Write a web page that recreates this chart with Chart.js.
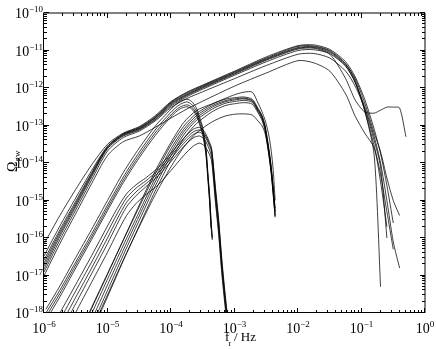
<!DOCTYPE html>
<html>
<head>
<meta charset="utf-8">
<script src="https://cdn.jsdelivr.net/npm/chart.js@4/dist/chart.umd.min.js"></script>
<style>
  html, body { margin: 0; padding: 0; background: #fff; }
  canvas { display: block; }
</style>
</head>
<body>
<canvas id="gwChart" width="436" height="349"></canvas>
<script>
// All values are log10: grids are log10(f / Hz), curves are log10(Omega_gw)

// ── Family 1: broad spectra peaking near 1e-2 Hz ─────────────────────────────
const f1Grid = [-6, -5.75, -5.5, -5.25, -5.0, -4.75, -4.5, -4.25, -4.0, -3.75, -3.5, -3.0, -2.5,
                -2.0, -1.75, -1.5, -1.25, -1.1, -0.95, -0.8, -0.7, -0.6, -0.5, -0.4, -0.3];
const f1a = [-16.16, -15.40, -14.70, -14.05, -13.50, -13.20, -13.03, -12.74, -12.36, -12.11, -11.92, -11.55, -11.17,
             -10.87, -10.85, -10.97, -11.30, -11.70, -12.30, -13.10, -13.75, -14.60, -15.60];
const f1b = [-16.48, -15.68, -14.93, -14.20, -13.55, -13.22, -13.05, -12.77, -12.38, -12.13, -11.94, -11.57, -11.20,
             -10.89, -10.88, -11.00, -11.35, -11.80, -12.60, -13.55, -14.30, -15.30, -16.30];
const f1c = [-16.59, -15.78, -15.02, -14.26, -13.57, -13.23, -13.07, -12.79, -12.40, -12.16, -11.96, -11.59, -11.22,
             -10.92, -10.90, -11.02, -11.37, -11.75, -12.40, -13.20, -13.70, -14.40, -15.00, -15.40];
const f1d = [-16.67, -15.84, -15.07, -14.29, -13.57, -13.24, -13.08, -12.80, -12.42, -12.18, -11.98, -11.61, -11.24,
             -10.94, -10.92, -11.05, -11.40, -11.85, -12.60, -13.80, -17.30];
const f1e = [-16.75, -15.90, -15.12, -14.33, -13.60, -13.26, -13.10, -12.83, -12.45, -12.20, -12.00, -11.63, -11.26,
             -10.96, -10.94, -11.08, -11.42, -11.85, -12.50, -13.30, -14.00, -15.00, -16.10, -16.80];
const f1f = [-16.83, -15.96, -15.17, -14.37, -13.62, -13.28, -13.12, -12.85, -12.48, -12.23, -12.03, -11.66, -11.30,
             -11.00, -10.98, -11.10, -11.75, -12.32, -12.64, -12.67, -12.59, -12.51, -12.51, -12.53, -13.30];
const f1g = [-16.91, -16.05, -15.25, -14.45, -13.68, -13.32, -13.15, -12.88, -12.52, -12.28, -12.10, -11.75, -11.40,
             -11.10, -11.08, -11.20, -11.55, -11.95, -12.55, -13.40, -14.10, -16.00];
const f1h = [-17.01, -16.15, -15.35, -14.55, -13.80, -13.43, -13.28, -13.05, -12.80, -12.56, -12.35, -11.95, -11.60,
             -11.27, -11.33, -11.55, -12.16, -12.75, -13.20, -13.60, -14.50, -15.70];

// ── Family 2: peak ~5e-13 near 2e-3 Hz, cut at ~4e-3 Hz ─────────────────────
const f2Grid = [-5.4, -5.25, -5.0, -4.75, -4.5, -4.25, -4.0, -3.8, -3.6, -3.35, -3.15, -3.0, -2.85,
                -2.72, -2.63, -2.57, -2.52, -2.48, -2.45, -2.42, -2.39, -2.36];
const f2a = [-18.40, -17.85, -16.95, -16.05, -15.17, -14.30, -13.52, -13.02, -12.68, -12.43, -12.30, -12.26, -12.24,
             -12.30, -12.54, -12.72, -12.99, -13.38, -13.72, -14.12, -14.65, -15.20];
const f2b = [-18.58, -18.02, -17.10, -16.19, -15.30, -14.41, -13.62, -13.10, -12.74, -12.47, -12.34, -12.29, -12.27,
             -12.33, -12.57, -12.75, -13.02, -13.41, -13.76, -14.16, -14.69, -15.27];
const f2c = [-18.75, -18.19, -17.25, -16.32, -15.41, -14.51, -13.71, -13.17, -12.80, -12.51, -12.37, -12.32, -12.29,
             -12.35, -12.59, -12.77, -13.04, -13.44, -13.79, -14.19, -14.72, -15.31];
const f2d = [-18.90, -18.35, -17.40, -16.45, -15.53, -14.62, -13.80, -13.25, -12.86, -12.56, -12.41, -12.36, -12.33,
             -12.38, -12.62, -12.80, -13.08, -13.48, -13.83, -14.24, -14.78, -15.40];
const f2e = [-19.10, -18.52, -17.57, -16.60, -15.67, -14.75, -13.92, -13.35, -12.95, -12.63, -12.47, -12.42, -12.39,
             -12.43, -12.66, -12.85, -13.12, -13.52, -13.88, -14.30, -14.85, -15.45];
const f2f = [-18.45, -17.88, -16.97, -16.05, -15.12, -14.22, -13.45, -12.92, -12.60, -12.42, -12.28, -12.18, -12.11,
             -12.11, -12.40, -12.62, -12.85, -13.10, -13.35, -13.70, -14.20, -15.00];
const f2g = [-19.00, -18.45, -17.52, -16.58, -15.70, -14.85, -14.10, -13.58, -13.20, -12.90, -12.75, -12.70, -12.69,
             -12.72, -12.88, -13.00, -13.20, -13.55, -13.90, -14.30, -14.85, -15.42];

// ── Family 3a: peak ~4e-13 near 1.7e-4 Hz, cut at ~4e-4 Hz ──────────────────
const f3aGrid = [-5.97, -5.75, -5.5, -5.25, -5.0, -4.75, -4.5, -4.25, -4.1, -3.95, -3.85, -3.75, -3.68,
                 -3.6, -3.55, -3.5, -3.45, -3.42, -3.39, -3.37, -3.35];
const f3a1 = [-18.00, -17.39, -16.64, -15.89, -15.12, -14.37, -13.71, -13.12, -12.83, -12.56, -12.43, -12.37, -12.43,
              -12.61, -12.85, -13.12, -13.65, -14.30, -14.95, -15.55, -15.97];
const f3a2 = [-18.10, -17.48, -16.72, -15.97, -15.20, -14.45, -13.79, -13.20, -12.90, -12.63, -12.50, -12.45, -12.50,
              -12.68, -12.92, -13.20, -13.72, -14.35, -15.05, -15.73];
const f3a3 = [-17.90, -17.28, -16.52, -15.77, -15.00, -14.25, -13.60, -13.02, -12.74, -12.48, -12.35, -12.30, -12.35,
              -12.53, -12.78, -13.05, -13.58, -14.25, -14.90, -15.50, -16.05];
const f3a4 = [-18.20, -17.57, -16.80, -16.04, -15.27, -14.52, -13.86, -13.27, -12.96, -12.68, -12.55, -12.50, -12.55,
              -12.73, -12.97, -13.25, -13.78, -14.42, -15.10, -15.70, -16.02];

// ── Family 3b: peak ~8e-14 near 2.6e-4 Hz, falls to 1e-18 at ~8e-4 Hz ───────
const f3bGrid = [-5.75, -5.5, -5.25, -5.0, -4.85, -4.7, -4.55, -4.4, -4.2, -4.0, -3.8, -3.65, -3.55,
                 -3.47, -3.4, -3.36, -3.3, -3.25, -3.2, -3.15, -3.1];
const f3b1 = [-18.00, -17.24, -16.47, -15.68, -15.22, -14.82, -14.58, -14.40, -14.12, -13.74, -13.34, -13.10, -13.05,
              -13.17, -13.42, -13.62, -14.65, -15.50, -16.55, -17.45, -18.25];
const f3b2 = [-18.19, -17.41, -16.64, -15.84, -15.36, -14.93, -14.67, -14.48, -14.19, -13.81, -13.41, -13.17, -13.12,
              -13.23, -13.47, -13.65, -14.72, -15.57, -16.64, -17.52, -18.32];
const f3b3 = [-18.37, -17.58, -16.80, -16.00, -15.50, -15.05, -14.77, -14.56, -14.26, -13.88, -13.48, -13.24, -13.18,
              -13.28, -13.52, -13.72, -14.80, -15.65, -16.72, -17.60, -18.40];
const f3b4 = [-18.55, -17.75, -16.95, -16.15, -15.64, -15.17, -14.87, -14.64, -14.34, -13.96, -13.56, -13.33, -13.28,
              -13.38, -13.62, -13.85, -14.95, -15.80, -16.85, -17.70, -18.50];
const f3b5 = [-18.80, -17.98, -17.18, -16.38, -15.87, -15.40, -15.08, -14.85, -14.58, -14.20, -13.80, -13.55, -13.47,
              -13.55, -13.75, -13.95, -15.05, -15.90, -16.95, -17.80, -18.60];

// axis decades
const xDecades = [-6, -5, -4, -3, -2, -1, 0];
const yDecades = [-18, -17, -16, -15, -14, -13, -12, -11, -10];

const curves = [
    [f1Grid, f1a], [f1Grid, f1b], [f1Grid, f1c], [f1Grid, f1d],
    [f1Grid, f1e], [f1Grid, f1f], [f1Grid, f1g], [f1Grid, f1h],
    [f2Grid, f2a], [f2Grid, f2b], [f2Grid, f2c], [f2Grid, f2d],
    [f2Grid, f2e], [f2Grid, f2f], [f2Grid, f2g],
    [f3aGrid, f3a1], [f3aGrid, f3a2], [f3aGrid, f3a3], [f3aGrid, f3a4],
    [f3bGrid, f3b1], [f3bGrid, f3b2], [f3bGrid, f3b3], [f3bGrid, f3b4], [f3bGrid, f3b5]
];

const datasets = curves.map(function(c) {
    const grid = c[0], vals = c[1];
    return {
        data: vals.map(function(v, i) { return { x: Math.pow(10, grid[i]), y: Math.pow(10, v) }; }),
        borderColor: 'rgba(0, 0, 0, 0.75)',
        borderWidth: 1,
        pointRadius: 0,
        tension: 0.25,
        clip: 0
    };
});

const SERIF = '"Liberation Serif", "DejaVu Serif", serif';

function expText(exp) {
    return exp === 0 ? '0' : '\u2212' + (-exp);
}
// draws "10" with a superscript exponent, starting at x
function powerLabel(ctx, exp, x, baseY) {
    ctx.font = '14px ' + SERIF;
    const wb = ctx.measureText('10').width;
    ctx.fillText('10', x, baseY);
    ctx.font = '9px ' + SERIF;
    ctx.fillText(expText(exp), x + wb, baseY - 6);
}
function powerWidth(ctx, exp) {
    ctx.font = '14px ' + SERIF;
    const wb = ctx.measureText('10').width;
    ctx.font = '9px ' + SERIF;
    return wb + ctx.measureText(expText(exp)).width;
}

// box, inward ticks and labels, placed through the chart's own scales
const framePlugin = {
    id: 'frame',
    afterDraw: function(chart) {
        const ctx = chart.ctx, a = chart.chartArea;
        const xs = chart.scales.x, ys = chart.scales.y;
        ctx.save();
        ctx.strokeStyle = '#000';
        ctx.fillStyle = '#000';
        ctx.lineWidth = 1;

        ctx.beginPath();
        ctx.moveTo(a.left - 0.5, a.top); ctx.lineTo(a.left - 0.5, a.bottom);
        ctx.moveTo(a.left - 1, a.bottom - 0.5); ctx.lineTo(a.right, a.bottom - 0.5);
        ctx.moveTo(a.left - 1, a.top); ctx.lineTo(a.right, a.top);
        ctx.moveTo(a.right, a.top); ctx.lineTo(a.right, a.bottom);
        ctx.stroke();

        ctx.beginPath();
        xDecades.forEach(function(n) {
            for (let k = 1; k <= 9; k++) {
                if (n === 0 && k > 1) break;
                const px = Math.round(xs.getPixelForValue(k * Math.pow(10, n))) - 0.5;
                const len = k === 1 ? 5 : 3;
                ctx.moveTo(px, a.bottom); ctx.lineTo(px, a.bottom - len);
                ctx.moveTo(px, a.top); ctx.lineTo(px, a.top + len);
            }
        });
        yDecades.forEach(function(n) {
            for (let k = 1; k <= 9; k++) {
                if (n === -10 && k > 1) break;
                const py = Math.round(ys.getPixelForValue(k * Math.pow(10, n))) - 0.5;
                const len = k === 1 ? 5 : 3;
                ctx.moveTo(a.left, py); ctx.lineTo(a.left + len, py);
                ctx.moveTo(a.right, py); ctx.lineTo(a.right - len, py);
            }
        });
        ctx.stroke();

        ctx.textBaseline = 'alphabetic';
        ctx.textAlign = 'left';
        xDecades.forEach(function(n) {
            const px = xs.getPixelForValue(Math.pow(10, n));
            powerLabel(ctx, n, px - powerWidth(ctx, n) / 2, a.bottom + 20);
        });
        yDecades.forEach(function(n) {
            const py = ys.getPixelForValue(Math.pow(10, n));
            powerLabel(ctx, n, 43 - powerWidth(ctx, n), py + 5);
        });

        // x title: f_r / Hz
        ctx.font = '13px ' + SERIF;
        ctx.fillText('f', 225, 341);
        ctx.font = '8px ' + SERIF;
        ctx.fillText('r', 228.5, 346);
        ctx.font = '13px ' + SERIF;
        ctx.fillText('/ Hz', 234, 341);

        // y title: Omega_gw, rotated
        ctx.translate(17, 172);
        ctx.rotate(-Math.PI / 2);
        ctx.font = '14px ' + SERIF;
        ctx.fillText('\u03A9', 0, 0);
        const wO = ctx.measureText('\u03A9').width;
        ctx.font = '9px ' + SERIF;
        ctx.fillText('gw', wO, 3);
        ctx.restore();
    }
};

new Chart(document.getElementById('gwChart'), {
    type: 'line',
    data: { datasets: datasets },
    options: {
        responsive: false,
        animation: false,
        events: [],
        layout: { padding: { left: 44, right: 11, top: 13, bottom: 36 } },
        plugins: {
            legend: { display: false },
            tooltip: { enabled: false }
        },
        scales: {
            x: { type: 'logarithmic', min: 1e-6, max: 1, display: false },
            y: { type: 'logarithmic', min: 1e-18, max: 1e-10, display: false }
        }
    },
    plugins: [framePlugin]
});
</script>
</body>
</html>
